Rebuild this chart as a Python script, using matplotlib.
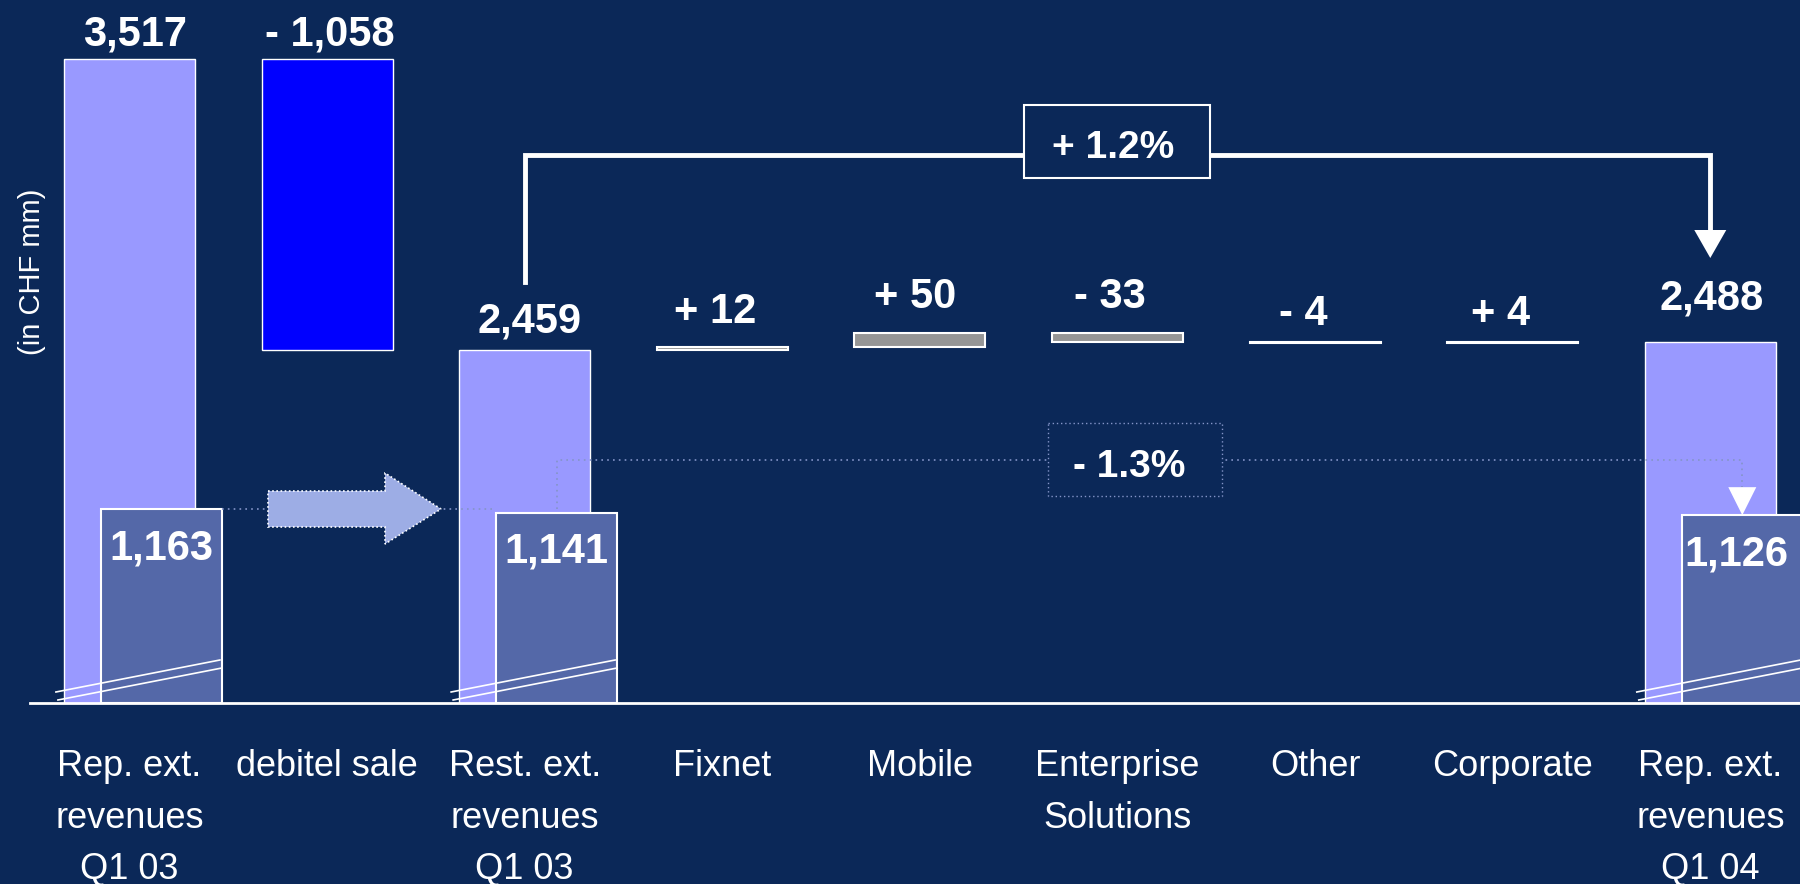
import matplotlib
matplotlib.use("Agg")
import matplotlib.pyplot as plt
from matplotlib.patches import Polygon, Rectangle
from matplotlib.lines import Line2D
from matplotlib.transforms import Affine2D

# revenue bridge Q1 03 -> Q1 04, CHF mm
categories = ["Rep. ext.\nrevenues\nQ1 03", "debitel sale", "Rest. ext.\nrevenues\nQ1 03",
              "Fixnet", "Mobile", "Enterprise\nSolutions", "Other", "Corporate",
              "Rep. ext.\nrevenues\nQ1 04"]
values = [3517, -1058, 2459, 12, 50, -33, -4, 4, 2488]
is_total = [True, False, True, False, False, False, False, False, True]
inner_idx = [0, 2, 8]
inner_values = [1163, 1141, 1126]

BG = "#0B2858"
LIGHT = "#9999FF"
DEBITEL = "#0000FF"
GREY = "#969696"
INNER = "#5468A8"
ARROW = "#9DADE5"
DOTS = "#8494C8"

W, H = 1800, 884
BASE = 703          # baseline, px from top
K = 0.275           # px per CHF mm above the axis break
BREAK = 1175        # value sitting on the baseline
BAR_W = 0.663
IN_SHIFT, IN_W = 0.162, 0.612

plt.rcParams["font.family"] = ["Liberation Sans", "DejaVu Sans"]

fig = plt.figure(figsize=(W / 100, H / 100), dpi=100)
fig.patch.set_facecolor(BG)
ax = fig.add_axes([0, (H - BASE) / H, 1, BASE / H])
ax.set_facecolor(BG)
ax.set_xlim(-0.655, 8.454)
ax.set_ylim(BREAK, BREAK + BASE / K)
for s in ax.spines.values():
    s.set_visible(False)
ax.set_yticks([])
ax.set_xticks(range(len(categories)))
ax.set_xticklabels(categories)
ax.tick_params(axis="x", length=0, pad=33, labelsize=26, labelcolor="white")
for t in ax.get_xticklabels():
    t.set_linespacing(1.62)

ax2 = ax.twinx()
ax2.set_ylim(0, inner_values[0] * BASE / 194)
ax2.axis("off")

# pixel space with origin top-left, for the connectors
PX = Affine2D().scale(1, -1).translate(0, H)


def to_px(axis, x, y=None):
    if y is None:
        y = axis.get_ylim()[0]
    dx, dy = axis.transData.transform((x, y))
    return dx, H - dy


# waterfall
bottoms, level = [], 0
for v, tot in zip(values, is_total):
    if tot:
        bottoms.append(0)
        level = v
    else:
        bottoms.append(level)
        level += v
colors = [LIGHT, DEBITEL, LIGHT, GREY, GREY, GREY, GREY, GREY, LIGHT]
lws = [1.0, 1.0, 1.0, 1.5, 1.5, 1.5, 1.5, 1.5, 1.0]
xs = list(range(len(values)))
ax.bar(xs, values, bottom=bottoms, width=BAR_W, color=colors,
       edgecolor="white", linewidth=lws, zorder=2)


def fmt(v, tot):
    if tot:
        return f"{v:,}"
    return ("+ " if v > 0 else "- ") + f"{abs(v):,}"


gaps = [13, 13, 17, 24, 25, 25, 17, 17, 32]
dxs = [6, 3, 5, -7, -5, -8, -12, -12, 1]
for i, (v, b, tot) in enumerate(zip(values, bottoms, is_total)):
    top = max(b, b + v)
    ax.annotate(fmt(v, tot), (i, top), xytext=(dxs[i] * 0.72, gaps[i] * 0.72),
                textcoords="offset points", ha="center", va="baseline",
                fontsize=30, fontweight="bold", color="white", zorder=5)

# inner bars on their own scale
in_x = [i + IN_SHIFT for i in inner_idx]
ax2.bar(in_x, inner_values, width=IN_W, color=INNER, edgecolor="white",
        linewidth=1.5, zorder=3)
in_dx = [0, 0, -6]
for x, v, d in zip(in_x, inner_values, in_dx):
    ax2.annotate(f"{v:,}", (x, v), xytext=(d * 0.72, -50 * 0.72),
                 textcoords="offset points", ha="center", va="baseline",
                 fontsize=30, fontweight="bold", color="white", zorder=5)

# axis break marks
for i in inner_idx:
    left = to_px(ax, i - BAR_W / 2)[0] - 8
    right = to_px(ax, i + IN_SHIFT + IN_W / 2)[0] - 2
    for off in (0, 8):
        fig.add_artist(Line2D([left + off / 4, right + off / 4],
                              [BASE - 11 + off, BASE - 43 + off],
                              transform=PX, color="white", lw=1.2, zorder=4))

# baseline
fig.add_artist(Line2D([30, W], [BASE, BASE], transform=PX, color="white",
                      lw=2, zorder=4))

# dotted link between the inner bars and the shift arrow
y_mid = to_px(ax2, in_x[0], inner_values[0])[1]
xa = to_px(ax2, in_x[0] + IN_W / 2)[0]
xb = to_px(ax2, in_x[1] - IN_W / 2)[0]
fig.add_artist(Line2D([xa, xb], [y_mid, y_mid], transform=PX, color=DOTS,
                      lw=1.2, ls=(0, (1, 2.5)), zorder=3))
arrow_pts = [(268, y_mid - 18), (385, y_mid - 18), (385, y_mid - 36),
             (441, y_mid), (385, y_mid + 35), (385, y_mid + 18), (268, y_mid + 18)]
fig.add_artist(Polygon(arrow_pts, closed=True, transform=PX, facecolor=ARROW,
                       edgecolor="white", lw=1.2, ls=(0, (1, 1.5)), zorder=4))

# +1.2% bracket between restated and reported totals
xl = to_px(ax, 2)[0]
xr = to_px(ax, 8)[0]
xc = to_px(ax, 5)[0]
fig.add_artist(Line2D([xl, xl, xr, xr], [282, 155, 155, 232], transform=PX,
                      color="white", lw=3.5, solid_joinstyle="miter", zorder=4))
fig.add_artist(Polygon([(xr - 16, 230), (xr + 16, 230), (xr, 258)], closed=True,
                       transform=PX, facecolor="white", edgecolor="none", zorder=4))
fig.add_artist(Rectangle((xc - 93, 105), 186, 73, transform=PX, facecolor=BG,
                         edgecolor="white", lw=1.5, zorder=5))
growth = (values[8] / values[2] - 1) * 100
fig.text(xc - 4, 158, f"+ {growth:.1f}%", transform=PX, ha="center",
         va="baseline", fontsize=28, fontweight="bold", color="white", zorder=6)

# -1.3% dotted bracket between the inner bars
yl = 460
xl2 = to_px(ax2, in_x[1])[0]
xr2 = to_px(ax2, in_x[2])[0]
top_l = to_px(ax2, in_x[1], inner_values[1])[1]
top_r = to_px(ax2, in_x[2], inner_values[2])[1]
fig.add_artist(Line2D([xl2, xl2, xr2, xr2], [top_l - 4, yl, yl, top_r - 28],
                      transform=PX, color=DOTS, lw=1.2, ls=(0, (1, 2.5)), zorder=4))
fig.add_artist(Polygon([(xr2 - 14, top_r - 28), (xr2 + 14, top_r - 28), (xr2, top_r)],
                       closed=True, transform=PX, facecolor="white",
                       edgecolor="none", zorder=4))
fig.add_artist(Rectangle((xc + 18 - 87, 423), 174, 73, transform=PX, facecolor=BG,
                         edgecolor=DOTS, lw=1, ls=(0, (1, 2)), zorder=5))
change = (inner_values[2] / inner_values[1] - 1) * 100
sign = "+ " if change > 0 else "- "
fig.text(xc + 12, 477, f"{sign}{abs(change):.1f}%", transform=PX, ha="center",
         va="baseline", fontsize=28, fontweight="bold", color="white", zorder=6)

fig.text(32 / W, 1 - 272 / H, "(in CHF mm)", rotation=90, ha="center",
         va="center", fontsize=21, color="white")

fig.savefig("out.png", dpi=100, facecolor=BG)
